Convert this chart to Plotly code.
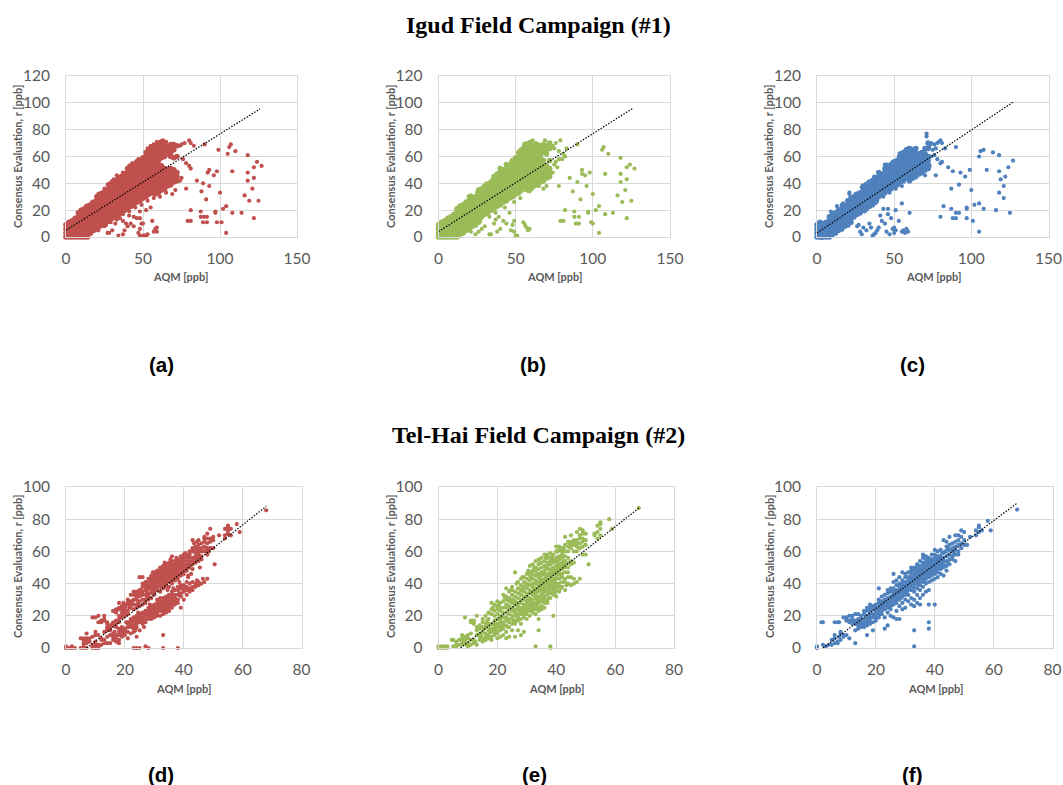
import plotly.graph_objects as go

RED, GREEN, BLUE = "#C0504D", "#9BBB59", "#4F81BD"

# y values read per x column (x: [y, ...]); the saturated clouds are read as filled columns
A_COLS = {0:[0,3,6,9],2:[0,2,5,8,11],4:[0,3,6,9,12],6:[0,2,5,8,11,14],8:[0,3,6,9,12,15,18],10:[0,2,5,8,11,14,17,20],12:[0,3,6,9,12,15,18,21],14:[0,2,5,8,11,14,17,20,23],16:[3,6,9,12,15,18,21,24],18:[5,8,11,14,17,20,23,26],
20:[6,9,12,15,18,21,24,27,30],22:[8,11,14,17,20,23,26,29,32],24:[9,12,15,18,21,24,27,30,33],26:[11,14,17,20,23,26,29,32,35],28:[12,15,18,21,24,27,30,33,36,39],30:[14,17,20,23,26,29,32,35,38,41],
32:[15,18,21,24,27,30,33,36,39,42],34:[17,20,23,26,29,32,35,38,41,44],36:[18,21,24,27,30,33,36,39,42,45],38:[20,23,26,29,32,35,38,41,44,47],40:[21,24,27,30,33,36,39,42,45,48,51],42:[23,26,29,32,35,38,41,44,47,50,53],
44:[24,27,30,33,36,39,42,45,48,51,54],46:[26,29,32,35,38,41,44,47,50,53,56],48:[27,30,33,36,39,42,45,48,51,54,57],50:[29,32,35,38,41,44,47,50,53,56,59],52:[30,33,36,39,42,45,48,51,54,57,60,63],54:[32,35,38,41,44,47,50,53,56,59,62,65],
56:[33,36,39,42,45,48,51,54,57,60,63,66],58:[32,35,38,41,44,47,50,53,56,59,62,65,68],60:[33,36,39,42,45,48,51,54,57,60,63,66,69],62:[35,38,41,44,47,50,53,59,62,65,68,71],64:[36,39,42,45,48,51,60,63,66,69],66:[38,41,44,47,50,62,65,68],68:[39,42,45,48,51,60,63,66,69],70:[41,44,47,50,59,65,69],72:[42,45,48,60,68]}
A_EXTRA_X = [13,17,21,25,27,31,33,37,41,43,47,53,55,57,59,61,63,65,21,25,29,33,37,41,45,49,53,57,61,65,74,75,77,80,81,83,76,78,80,81,75,72,71,69,78,74,34,37,38,40,42,44,46,48,47,48,49,50,50,51,52,53,48,56,57,58,59,59,27,30,26,28,32,35,37,39,41,44,48,52,55,79,81,81,85,88,89,87.5,87.5,89.5,89,91.5,91.5,91,93,92,93,96,98,97,97,98,101,99,100,102,104,104,105,106,107,108,108,110,114,116,118,118,118,119,121,122,122,122,124,125,127,90]
A_EXTRA_Y = [23,26,32,36,39,43,46,48,53,55,58,66,68,69,71,70,72,71,5,8,11,13,17,19,22,24,27,29,30,33,68,69,70,72,70,68,58,55,53,51,44,42,35,32,36,42,1,2,5,8,10,8,14,14,3,6,10,10,1,1,1,2,1,12,4,6,7,4,3,5,9,3,10,14,12,10,16,15,19,20,22,12,12,20,42,34,40,19,15,15,11,15,11,28,38,48,50,46,49,19,18,11,11,65,33,21,23,3,62,67,69,18,49,64,18,31,61,48,42,27,36,44,52,14,56,27,53,69]

B_COLS = {0:[0,3,6,9],2:[0,2,5,8,11],4:[0,3,6,9,12],6:[0,2,5,8,11,14],8:[0,3,6,9,12,15],10:[0,2,5,8,11,14,17],12:[0,3,6,9,12,15,18,21],14:[2,5,8,11,14,17,20,23],16:[3,6,9,12,15,18,21,24],18:[5,8,11,14,17,20,23,26],
20:[6,9,12,15,18,21,24,27,30],22:[8,11,14,17,20,23,26,29],24:[9,12,15,18,21,24,27,30],26:[11,14,17,20,23,26,29,32,35],28:[15,18,21,24,27,30,33,36],30:[17,20,23,26,29,32,35,38],
32:[18,21,24,27,30,33,36,39],34:[20,23,26,29,32,35,38,41],36:[21,24,27,30,33,36,39,42,45],38:[23,26,29,32,35,38,41,44,47],40:[24,27,30,33,36,39,42,45,48,51],42:[26,29,32,35,38,41,44,47,50],
44:[27,30,33,36,39,42,45,48,51,54],46:[29,32,35,38,41,44,47,50,53],48:[30,33,36,39,42,45,48,51,54,57],50:[32,35,38,41,44,47,50,53,56,59],52:[33,36,39,42,45,48,51,54,57,60,63],54:[35,38,41,44,47,50,53,56,59,62,65],
56:[36,39,42,45,48,51,54,57,60,63,66,69],58:[35,38,41,44,47,50,53,56,59,62,65,68],60:[36,39,42,45,48,51,54,57,60,63,66,69],62:[38,41,44,47,50,53,56,59,62,65,68],64:[39,42,45,48,51,54,57,60,63,66,69],66:[41,44,47,50,53,56,59,62,65,68],68:[42,45,48,51,54,57,63,66,69],70:[44,47,50,53,62,65,68],72:[45,48,51,57,66,70]}
B_EXTRA_X = [13,17,21,25,31,35,41,47,53,55,57,59,61,63,69,21,27,33,37,43,49,53,59,65,74,75,76,78,79,80,81,82,83,75,76,77,78,74,72,70,68,78,26,24,28,30,33,34,36,37,38,39,40,42,44,46,47,48,49,50,51,49,55,56,57,58,59,79,81,82,85,87,88,88,90,89,91,91,92,93,93,95,98,96,97,97,99,100,102,104,104,100,106,107,108,108,110,113,116,118,118,118,119,121,122,122,122,124,125,127,90]
B_EXTRA_Y = [22,25,31,33,40,43,50,56,65,67,70,71,72,70,72,4,12,15,18,22,26,29,34,38,68,66,70,64,72,58,62,60,66,54,56,52,58,48,46,38,36,38,4,2,6,8,2,2,10,13,4,15,6,12,10,18,5,9,12,1,1,4,11,9,7,5,6,12,12,20,44,34,15,19,41,10,10,15,28,47,50,46,48,38,19,18,11,10,20,23,3,32,65,67,17,47,62,18,31,59,47,41,26,35,43,52,14,54,27,51,69]

C_COLS = {0:[0,3,6,9],1:[1,4,10],2:[0,2,5,8,11],3:[0,3,10],4:[0,3,6,9],5:[1,4,10],6:[0,2,5,8,11],7:[1,4,10],8:[0,3,6,9,12,15],10:[2,5,8,11,14,17],12:[3,6,9,12,15,18],14:[5,8,11,14,17,20],16:[6,9,12,15,18,21],18:[8,11,14,17,20,23],20:[9,12,15,18,21,24,27],22:[11,14,17,20,23,26,29],
24:[15,18,21,24,27,30],26:[17,20,23,26,29,32],28:[18,21,24,27,30,33],30:[20,23,26,29,32,35,38],32:[21,24,27,30,33,36,39],34:[23,26,29,32,35,38,41],36:[24,27,30,33,36,39,42],38:[26,29,32,35,38,41,44],40:[30,33,36,39,42,45,48],
42:[32,35,38,41,44,47],44:[33,36,39,42,45,48,51],46:[35,38,41,44,47,50,53],48:[36,39,42,45,48,51,54],50:[38,41,44,47,50,53,56],52:[39,42,45,48,51,54,57],54:[41,44,47,50,53,56,59,62],56:[42,45,48,51,54,57,60,63],58:[44,47,50,53,56,59,62,65],
60:[42,45,48,51,54,57,60,63,66],62:[44,47,50,53,56,59,62,65],64:[45,48,51,54,57,60,63,66],66:[47,50,53,56,59,62],68:[48,51,54,57,60,63],70:[50,53,56,59,62,66],72:[51,54,57,60,66,70]}
C_EXTRA_X = [9,13,17,21,25,29,33,37,41,45,49,53,57,59,21,31,35,39,43,47,51,55,71,71,73,74,75,76,77,78,79,80,81,83,74,76,78,80,81,73,70,77,16,20,44,26,28,27,29,30,32,34,35,36,37,38,39,40,41,42,44,45,46,47,48,49,50,50,51,53,55,56,57,58,59,60,46,43,51,55,80,82,85,88,87,87,90,90,88,90,92,92,93,96,97,97,97,99,100,101,102,105,105,105,106,108,108,110,114,116,118,118,118,119,121,121,122,124,125,127]
C_EXTRA_Y = [19,23,25,32,32,37,40,45,47,54,56,60,64,66,33,19,24,27,30,33,36,38,77,75,68,70,65,69,66,70,71,72,70,66,60,61,58,55,56,53,46,46,24,26,54,8,4,9,2,7,5,10,7,1,2,3,5,7,16,12,10,4,17,2,14,6,3,7,5,12,4,5,3,6,4,18,21,21,20,25,15,23,52,49,21,36,18,67,14,14,18,39,48,45,22,21,14,50,35,12,24,25,4,60,64,65,21,50,63,20,33,61,49,43,29,38,45,52,18,57]

D_COLS = {0:[0,1],1:[0],2:[0,1],3:[0],5:[0,6],6:[0,1,3,5,6],7:[0,3,5,6,9],8:[4,6],9:[0,1,2,7,19],10:[0,1,2,4,8,10,19],11:[0,1,2,8,16,20],12:[2,5,6,16,17],13:[3,5,10,17,18,20],14:[3,7,11,12,13,15,16],15:[3,8,11,12,13,14],16:[5,7,9,14,15,16,23],17:[4,6,8,13,15,17,22,23,24],18:[3,5,8,10,12,16,18,20,24,25,28],19:[7,9,11,13,19,20,22,24,26],20:[8,10,11,12,20,21,23,25,26,27],21:[6,10,13,15,16,21,23,27,28,30],22:[9,13,14,16,17,18,25,27,29,33],23:[0,10,12,14,15,17,19,24,27,30,33,35],24:[0,7,13,15,17,19,20,25,27,30,32,34,35],25:[0,11,16,18,19,21,26,29,32,34,36,44],26:[15,17,19,21,22,27,30,33,35,38,40,44],27:[1,16,18,20,22,23,28,30,33,36,38,40,41],28:[0,18,20,21,23,25,30,32,34,37,39,41,43],29:[18,20,22,24,26,31,34,36,38,40,42,44,45],30:[19,21,23,25,27,33,35,37,39,41,43,45,47],31:[20,22,24,26,28,30,36,38,40,42,44,46,48],32:[20,23,25,27,29,31,35,38,40,42,44,46,48,50],33:[0,8,21,23,25,27,29,31,37,39,41,43,45,47,49,51],34:[22,24,26,28,30,32,38,40,42,44,46,48,50,52],35:[23,25,27,29,31,33,38,41,43,45,47,49,51,53],36:[25,27,29,31,33,35,40,42,44,46,48,50,52,54,57],37:[27,29,31,33,36,42,44,46,48,50,52,54],38:[0,28,30,33,36,38,43,45,47,49,51,53,55],39:[25,32,34,37,39,45,47,49,51,53,55,57],40:[30,35,37,39,46,48,50,52,54,56,58],41:[33,36,38,41,48,50,52,54,56,58],42:[35,37,40,50,52,54,56,58,60],43:[36,38,41,49,52,54,56,60,62,67],44:[38,40,53,55,57,59,61,63],45:[39,41,54,56,58,60,62,64,67],46:[40,55,57,60,62,65],47:[41,60,63,66,68,69],48:[43,58,60,62,65,68,71],49:[62,66,68,74],50:[62,67,69],50.5:[52],52:[70],54:[68,70,74],55:[71,73,75,76],56:[70,74],58:[77],59:[72],68:[85.5]}
D_EXTRA_X = [15.5,16.5,19.5,20.5,22.5,23.5,24.5,25.5,26.5,27.5,28.5,29.5,30.5,31.5,33.5,34.5,35.5,36.5,37.5,38.5,39.5,40.5,41.5,42.5,43.5,44.5,45.5,46.5,47.5,48.5,21.5,24.5,27.5,30.5,33.5,36.5,29.5,32.5,35.5,38.5,41.5,44.5]
D_EXTRA_Y = [14,10,28,16,29,11,22,36,13,35,27,47,26,44,53,36,55,37,56,41,37,59,45,46,65,66,50,43,62,60,25,28,31,40,42,48,19,24,29,34,44,42]

E_COLS = {0:[0,1],1:[0,1],2:[0,1],3:[0,1],4.5:[5],5:[1,5],6:[1,2,4],7:[2,5],8:[2,4,6,8],9:[3,5,7,19],10:[1,3,6,8],11:[2,5,9,16,17],12:[3,5,15,16,17],13:[2,8,11,13,20],14:[5,7,9,12,14],15:[4,6,10,13,16,18],16:[5,7,9,13,15,20],17:[6,8,11,13,15,18,22],18:[5,7,10,12,15,21,24,28],19:[8,10,12,14,17,20,23,27],20:[6,9,11,13,15,18,21,24,26,29],21:[7,11,13,15,17,20,23,25,28],22:[8,12,14,16,19,22,25,29,33],23:[6,10,14,17,19,22,25,27,30,32,37],24:[7,13,16,18,21,24,26,29,31,35],25:[11,15,18,20,23,25,28,30,33,36,38],26:[7,15,17,20,22,24,27,29,32,35,47],27:[11,17,19,21,24,26,28,31,34,37,41],28:[8,15,18,21,23,25,28,30,33,36,39,43],29:[10,19,21,23,25,27,30,32,35,38,41,44],30:[18,21,23,25,27,29,32,34,37,40,43,46],31:[20,23,25,27,29,31,34,36,39,42,45,47,51],32:[22,24,26,28,30,33,35,38,40,43,46,48,52],33:[1,21,24,26,28,31,33,35,37,40,42,45,48,50,54],34:[11,18,23,25,28,30,32,35,37,39,41,44,46,49,52,55],35:[24,26,29,31,33,36,38,40,42,45,47,50,53,56],36:[25,28,30,32,35,37,39,41,43,46,48,51,54,58],37:[28,30,33,35,37,40,42,44,46,49,51,53,56,58],38:[0,1,31,34,36,38,40,42,45,47,49,52,54,56,59],39:[20,33,35,37,39,41,43,46,48,50,53,55,58],40:[32,36,38,40,43,45,47,49,51,54,56,60,63],41:[35,38,40,43,46,48,50,52,55,57,61,63],42:[38,41,44,46,49,51,53,56,58,60,62],43:[36,41,43,47,50,52,54,57,60,64,69],44:[40,44,47,50,53,56,60,63,66],45:[39,44,52,54,62,64,66,70],46:[40,43,53,60,64,66,67],47:[41,60,63,65,67,72],48:[43,62,65,68,70,74],49:[58,63,66,68,71,73],50:[58,64,67,71],51:[52],53:[71,70],54:[68,72,76],55:[70,74,77,78],58:[80],59:[74],68:[87]}
E_EXTRA_X = [9.5,12.5,14.5,15.5,16.5,17.5,18.5,19.5,20.5,21.5,22.5,23.5,24.5,25.5,26.5,27.5,28.5,29.5,30.5,31.5,32.5,33.5,34.5,35.5,36.5,37.5,38.5,39.5,40.5,41.5,42.5,43.5,44.5,23.5,25.5,27.5,29.5,31.5,33.5,35.5,37.5,39.5,41.5,26.5,28.5,30.5,32.5,34.5,36.5,38.5,40.5,42.5,30.5,32.5,34.5,36.5,38.5,28.5,31.5,33.5]
E_EXTRA_Y = [2,4,8,12,17,10,25,15,27,19,31,13,36,17,40,22,44,26,48,24,50,27,53,29,56,31,57,34,60,37,62,39,65,26,30,34,40,44,46,34,38,42,44,28,37,39,37,43,45,47,53,54,30,33,39,50,44,22,27,29]

F_COLS = {0:[0,0.5,1],1.5:[16],2:[16,2],3:[1],4:[2],5:[2,5],6:[3,6,8,16],7:[3,4,16],7.5:[16,7],8:[9,10,5],9:[8,7,19],10:[17,18,19,8],11:[6,16,17,20],12:[15,16,18,20],13:[3,11,15,17,21],14:[12,14,16,17,18,21],15:[13,15,16,18,20],16:[13,14,16,18,21,23],17:[8,14,16,18,20,23,25],18:[15,17,19,21,23,25,27],19:[11,16,19,21,24,26],20:[17,19,21,23,25,27],21:[19,21,23,25,28,30,37],22:[21,23,25,27,29,32],23:[12,19,24,26,28,30,33],24:[14,22,25,27,29,31,34,36],25:[20,24,26,28,30,32,35,37],26:[19,27,29,31,33,35,37,41,46],27:[18,23,28,30,32,34,36,39,42],28:[18,26,30,32,34,36,38,40,44],29:[24,28,32,34,36,38,40,42,47],30:[25,30,33,35,37,39,41,44,46],31:[29,33,36,38,40,42,44,47],32:[27,31,36,38,40,42,44,46,48,50],33:[1,11,26,30,35,38,40,42,44,46,48,50],34:[28,33,37,40,42,44,46,48,50,52],35:[27,31,36,39,41,43,45,47,49,51,54],36:[33,38,41,43,45,47,49,51,53,56,58],37:[35,40,43,45,47,49,51,53,55,57],38:[12,16,27,36,41,44,46,48,50,52,54,56],39:[42,45,47,49,51,53,55,58],40:[27,43,46,48,50,52,54,56,58,61],41:[44,47,49,51,53,55,57,60],42:[46,49,51,53,55,57,61],43:[45,50,52,54,56,59,67],44:[48,51,54,57,60,63,66],45:[52,55,58,61,64,69],46:[55,57,60,62,65],47:[54,58,61,63,66,70],48:[58,60,64,67,70],49:[62,65,69,73],50:[64,67,72],51:[64],52:[69],54:[70,73],55:[72,75,76],56:[73],58:[79],59:[73],68:[86]}
F_EXTRA_X = [20.5,21.5,22.5,23.5,24.5,25.5,26.5,27.5,28.5,29.5,30.5,31.5,32.5,33.5,34.5,35.5,36.5,37.5,38.5,39.5,40.5,41.5,42.5,43.5,44.5,28.5,30.5,32.5,33.5,34.5,35.5,36.5,37.5,38.5,39.5,40.5,41.5,42.5,44.5,46.5]
F_EXTRA_Y = [24,26,27,29,30,32,33,35,36,38,39,41,43,45,47,48,50,52,53,55,56,57,59,60,62,31,34,37,41,39,44,42,46,47,50,51,54,50,53,59]

FIT_A = ([0,126],[5,95.5])
FIT_B = ([0,126],[4,96])
FIT_C = ([0,127],[3,100.5])
FIT_D = ([7,68],[0,88])
FIT_E = ([7.5,68.5],[0,87.5])
FIT_F = ([2,68],[0,90])

TICKS_TOP_X = [0,50,100,150]
TICKS_TOP_Y = [0,20,40,60,80,100,120]
TICKS_BOT_X = [0,20,40,60,80]
TICKS_BOT_Y = [0,20,40,60,80,100]
LETTERS = ["(a)","(b)","(c)","(d)","(e)","(f)"]
TITLES = ["Igud Field Campaign (#1)","Tel-Hai Field Campaign (#2)"]
X_TITLE = "AQM [ppb]"
Y_TITLE = "Consensus Evaluation, r [ppb]"


def flatten(cols):
    xs, ys = [], []
    for x, vals in cols.items():
        for y in vals:
            xs.append(x); ys.append(y)
    return xs, ys


W, H = 1063, 785
GREY = "#595959"; GRID = "#D9D9D9"
panels = [
    (A_COLS, A_EXTRA_X, A_EXTRA_Y, FIT_A, RED, 66, 297, 76, 237, 150, 120),
    (B_COLS, B_EXTRA_X, B_EXTRA_Y, FIT_B, GREEN, 438.5, 670, 76, 237, 150, 120),
    (C_COLS, C_EXTRA_X, C_EXTRA_Y, FIT_C, BLUE, 817, 1048.5, 76, 237, 150, 120),
    (D_COLS, D_EXTRA_X, D_EXTRA_Y, FIT_D, RED, 66, 301.5, 487, 648, 80, 100),
    (E_COLS, E_EXTRA_X, E_EXTRA_Y, FIT_E, GREEN, 438.5, 674, 487, 648, 80, 100),
    (F_COLS, F_EXTRA_X, F_EXTRA_Y, FIT_F, BLUE, 817, 1052.5, 487, 648, 80, 100),
]
letter_pos = [(161,364),(533,364),(912,364),(161,774),(534,774),(912,774)]
xtitle_pos = [(180,277),(554,277),(933,277),(183,688),(556,688),(935,688)]
ytitle_pos = [(18,157),(391,157),(769,157),(17,567),(390,567),(769,567)]


def paper(text, px, py, font, angle=0):
    return dict(text=text, x=px / W, y=1 - py / H, xref="paper", yref="paper", showarrow=False,
                xanchor="center", yanchor="middle", textangle=angle, font=font)


fig = go.Figure()
anns = []
small = dict(family="Lato", size=11, color=GREY)
for i, (cols, ex, ey, fit, col, l, r, t, b, xm, ym) in enumerate(panels, 1):
    xs, ys = flatten(cols)
    core_size = 5.6 if i <= 3 else 4.2
    fig.add_trace(go.Scatter(x=xs, y=ys, mode="markers", xaxis=f"x{i}", yaxis=f"y{i}", cliponaxis=False,
                             marker=dict(color=col, size=core_size, line=dict(width=0)), showlegend=False))
    fig.add_trace(go.Scatter(x=ex, y=ey, mode="markers", xaxis=f"x{i}", yaxis=f"y{i}", cliponaxis=False,
                             marker=dict(color=col, size=4.2, line=dict(width=0)), showlegend=False))
    fig.add_trace(go.Scatter(x=fit[0], y=fit[1], mode="lines", xaxis=f"x{i}", yaxis=f"y{i}",
                             line=dict(color="black", width=1.2, dash="1.5px,1.5px"), showlegend=False))
    common = dict(showgrid=True, gridcolor=GRID, gridwidth=1, showline=True, linecolor=GRID, linewidth=1, mirror=True,
                  zeroline=False, ticks="", automargin=False, tickfont=dict(family="Lato", size=15.5, color=GREY))
    ax = dict(range=[0, xm], domain=[l / W, r / W], tickvals=TICKS_TOP_X if xm == 150 else TICKS_BOT_X,
              anchor=f"y{i}", ticklabelstandoff=7, **common)
    ay = dict(range=[0, ym], domain=[1 - b / H, 1 - t / H], tickvals=TICKS_TOP_Y if ym == 120 else TICKS_BOT_Y,
              anchor=f"x{i}", ticklabelstandoff=12, **common)
    fig.update_layout({f"xaxis{i}": ax, f"yaxis{i}": ay})
    anns.append(paper(f"<b>{LETTERS[i-1]}</b>", *letter_pos[i-1], dict(family="Liberation Sans", size=20.5, color="black")))
    anns.append(paper(f"<b>{X_TITLE}</b>", *xtitle_pos[i-1], small))
    anns.append(paper(f"<b>{Y_TITLE}</b>", *ytitle_pos[i-1], small, angle=-90))
for txt, yc in zip(TITLES, (25, 435)):
    anns.append(paper(f"<b>{txt}</b>", 538, yc, dict(family="Liberation Serif", size=24, color="black")))
fig.update_layout(width=W, height=H, margin=dict(l=0, r=0, t=0, b=0), paper_bgcolor="white", plot_bgcolor="white",
                  annotations=anns, showlegend=False)
fig.write_html("out.html", config={"displayModeBar": False},
               post_script="document.body.style.margin='0';document.body.style.overflow='hidden';")
